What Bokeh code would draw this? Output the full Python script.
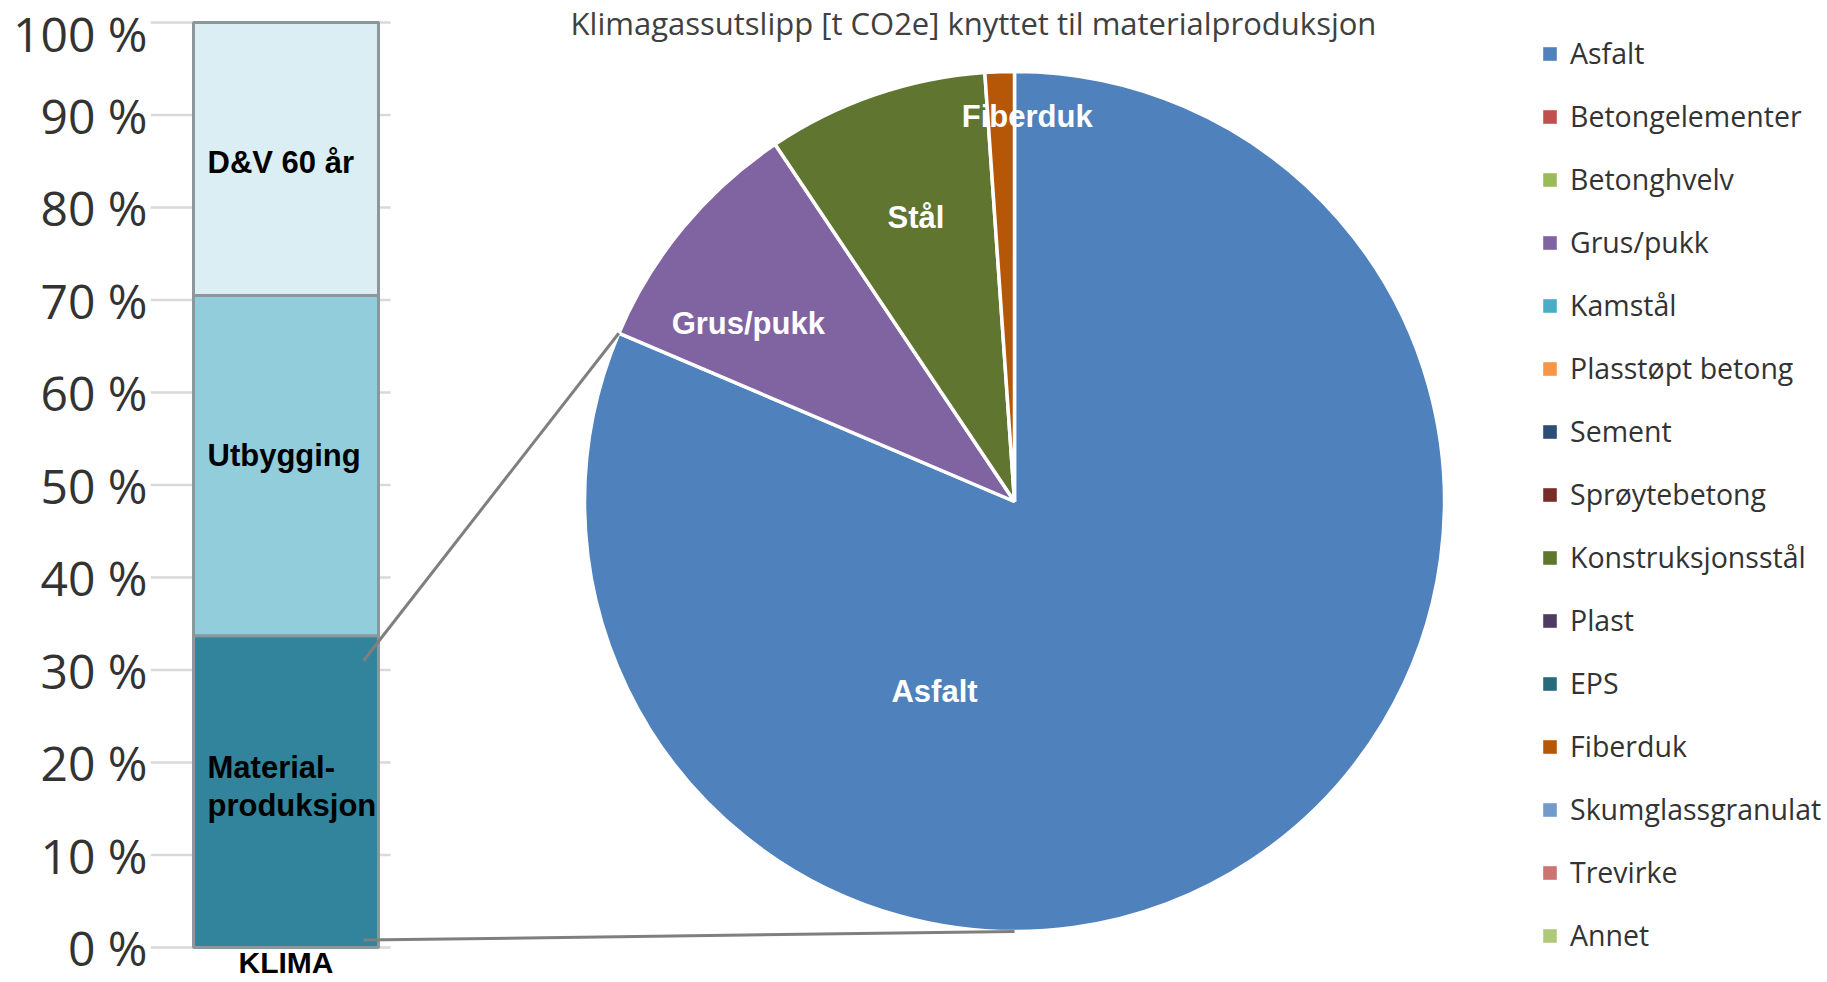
import math
import numpy as np
from bokeh.plotting import figure
from bokeh.models import (Range1d, LinearAxis, FixedTicker, PrintfTickFormatter,
                          ColumnDataSource, Legend, LegendItem)
from bokeh.core.properties import value
from bokeh.embed import file_html
from bokeh.resources import INLINE

# ---------------- data ----------------
bar_category = "KLIMA"
bar_segments = ["Material-\nproduksjon", "Utbygging", "D&V 60 år"]
bar_values = [33.7, 36.8, 29.5]
bar_colors = ["#31849B", "#92CDDC", "#DAEEF3"]
pct_ticks = [0, 10, 20, 30, 40, 50, 60, 70, 80, 90, 100]

pie_title = "Klimagassutslipp [t CO2e] knyttet til materialproduksjon"
materials = ["Asfalt", "Betongelementer", "Betonghvelv", "Grus/pukk", "Kamstål",
             "Plasstøpt betong", "Sement", "Sprøytebetong", "Konstruksjonsstål",
             "Plast", "EPS", "Fiberduk", "Skumglassgranulat", "Trevirke", "Annet"]
material_values = [81.4, 0, 0, 9.2, 0, 0, 0, 0, 8.3, 0, 0, 1.1, 0, 0, 0]
material_colors = ["#4F81BD", "#C0504D", "#9BBB59", "#8064A2", "#4BACC6",
                   "#F79646", "#2C4D75", "#772C2A", "#5F7530", "#4D3B62",
                   "#276A7C", "#B65708", "#729ACA", "#CD7371", "#AFC97A"]
slice_label_text = {"Asfalt": "Asfalt", "Grus/pukk": "Grus/pukk",
                    "Konstruksjonsstål": "Stål", "Fiberduk": "Fiberduk"}

# ---------------- layout (page pixels) ----------------
W, H = 1827, 982
LEFT = 150
PAGE_H = 982
def py(page_y):          # page y -> data y
    return PAGE_H - page_y

PCT0_PAGE = 947.0
PCT100_PAGE = 22.0
PCT_SCALE = (PCT0_PAGE - PCT100_PAGE) / 100.0
def pct_to_y(v):
    return py(PCT0_PAGE) + v * PCT_SCALE

frame_bottom, frame_top = py(H), py(0)
p = figure(width=W, height=H, output_backend="svg", toolbar_location=None,
           x_range=Range1d(LEFT, W), y_range=Range1d(frame_bottom, frame_top),
           x_axis_location=None, y_axis_location=None,
           min_border=0, min_border_left=LEFT, outline_line_color=None,
           background_fill_color="white", border_fill_color="white")
p.xgrid.visible = False
p.ygrid.visible = False

pct_lo = (frame_bottom - py(PCT0_PAGE)) / PCT_SCALE
pct_hi = (frame_top - py(PCT0_PAGE)) / PCT_SCALE
p.extra_y_ranges = {"pct": Range1d(pct_lo, pct_hi)}

axis = LinearAxis(y_range_name="pct", ticker=FixedTicker(ticks=pct_ticks),
                  formatter=PrintfTickFormatter(format="%d %%"),
                  axis_line_color=None, major_tick_line_color=None,
                  minor_tick_line_color=None, major_tick_out=0, major_tick_in=0,
                  minor_tick_out=0, minor_tick_in=0,
                  major_label_text_font="Open Sans", major_label_text_font_size="48px",
                  major_label_text_color="#333333", major_label_standoff=3)
p.add_layout(axis, "left")

# gridlines of bar chart (short)
GRID_X0, GRID_X1 = 150, 390
p.segment(x0=GRID_X0, x1=GRID_X1, y0=pct_ticks, y1=pct_ticks, y_range_name="pct",
          line_color="#d9d9d9", line_width=2.5)

# stacked bar
BAR_X, BAR_W = 285.5, 185
BAR_LABEL_PCT = [17.4, 53.2, 84.9]   # label anchor heights inside the segments
bottoms = np.cumsum([0] + bar_values[:-1]).tolist()
tops = np.cumsum(bar_values).tolist()
bar_src = ColumnDataSource(dict(bottom=bottoms, top=tops, color=bar_colors,
                                lab_y=BAR_LABEL_PCT, label=bar_segments))
p.vbar(x=BAR_X, width=BAR_W, bottom="bottom", top="top", fill_color="color",
       line_color="#8c979b", line_width=3, y_range_name="pct", source=bar_src)
p.text(x=207, y="lab_y", text="label", y_range_name="pct", source=bar_src,
       text_font=value("Liberation Sans"), text_font_style="bold",
       text_font_size="31px", text_color="black", text_align="left",
       text_baseline="middle", text_line_height=1.07)
p.text(x=[BAR_X], y=[py(962)], text=[bar_category],
       text_font=value("Liberation Sans"), text_font_style="bold",
       text_font_size="30px", text_color="black", text_align="center",
       text_baseline="alphabetic")

# pie
CX, CY, R = 1014, py(501), 430
total = sum(material_values)
fr = [v / total for v in material_values]
cum = np.cumsum([0] + fr).tolist()
starts = [math.pi / 2 - 2 * math.pi * cum[i] for i in range(len(fr))]
ends = [math.pi / 2 - 2 * math.pi * cum[i + 1] for i in range(len(fr))]
nz = [i for i, v in enumerate(material_values) if v > 0]
pie_src = ColumnDataSource(dict(start=[starts[i] for i in nz], end=[ends[i] for i in nz],
                                color=[material_colors[i] for i in nz]))
p.wedge(x=CX, y=CY, radius=R, start_angle="start", end_angle="end", direction="clock",
        fill_color="color", line_color="white", line_width=3.5, source=pie_src)

# slice labels: (degrees clockwise from top, fraction of radius)
LABEL_POLAR = {"Asfalt": (202.8, 0.48), "Grus/pukk": (-56.2, 0.745),
               "Konstruksjonsstål": (-19.1, 0.70), "Fiberduk": (1.9, 0.895)}
lx, ly, lt = [], [], []
for name, txt in slice_label_text.items():
    a, f = LABEL_POLAR[name]
    lx.append(CX + R * f * math.sin(math.radians(a)))
    ly.append(CY + R * f * math.cos(math.radians(a)))
    lt.append(txt)
p.text(x=lx, y=ly, text=lt, text_font=value("Liberation Sans"), text_font_style="bold",
       text_font_size="31px", text_color="white", text_align="center",
       text_baseline="middle")

# connector lines from material segment to pie
grus_start = 2 * math.pi * cum[materials.index("Grus/pukk")]
con_x0 = [363, 363]
con_y0 = [pct_to_y(31), pct_to_y(0.8)]
con_x1 = [CX - R * math.sin(2 * math.pi - grus_start), CX]
con_y1 = [CY + R * math.cos(2 * math.pi - grus_start), CY - R]
p.segment(x0=con_x0, y0=con_y0, x1=con_x1, y1=con_y1, line_color="#7f7f7f", line_width=3)

# title at the very top
p.text(x=[973], y=[py(1)], text=[pie_title], text_font=value("Open Sans"),
       text_font_size="31px", text_color="#404040", text_align="center",
       text_baseline="top")

# legend proxy (not drawn)
nan = np.full(len(materials), np.nan)
leg_src = ColumnDataSource(dict(l=nan, r=nan, b=nan, t=nan, color=material_colors))
leg_r = p.quad(left="l", right="r", bottom="b", top="t", fill_color="color",
               line_color=None, source=leg_src)
items = [LegendItem(label=m, renderers=[leg_r], index=i) for i, m in enumerate(materials)]
legend = Legend(items=items, location=(1541 - LEFT, 28), orientation="vertical",
                glyph_width=17, glyph_height=17, label_height=38, spacing=25,
                label_standoff=12, padding=0, margin=0, border_line_color=None,
                background_fill_alpha=0, label_text_font="Open Sans",
                label_text_font_size="28.5px", label_text_color="#333333")
p.add_layout(legend, "center")

open("out.html", "w").write(file_html(p, INLINE))
